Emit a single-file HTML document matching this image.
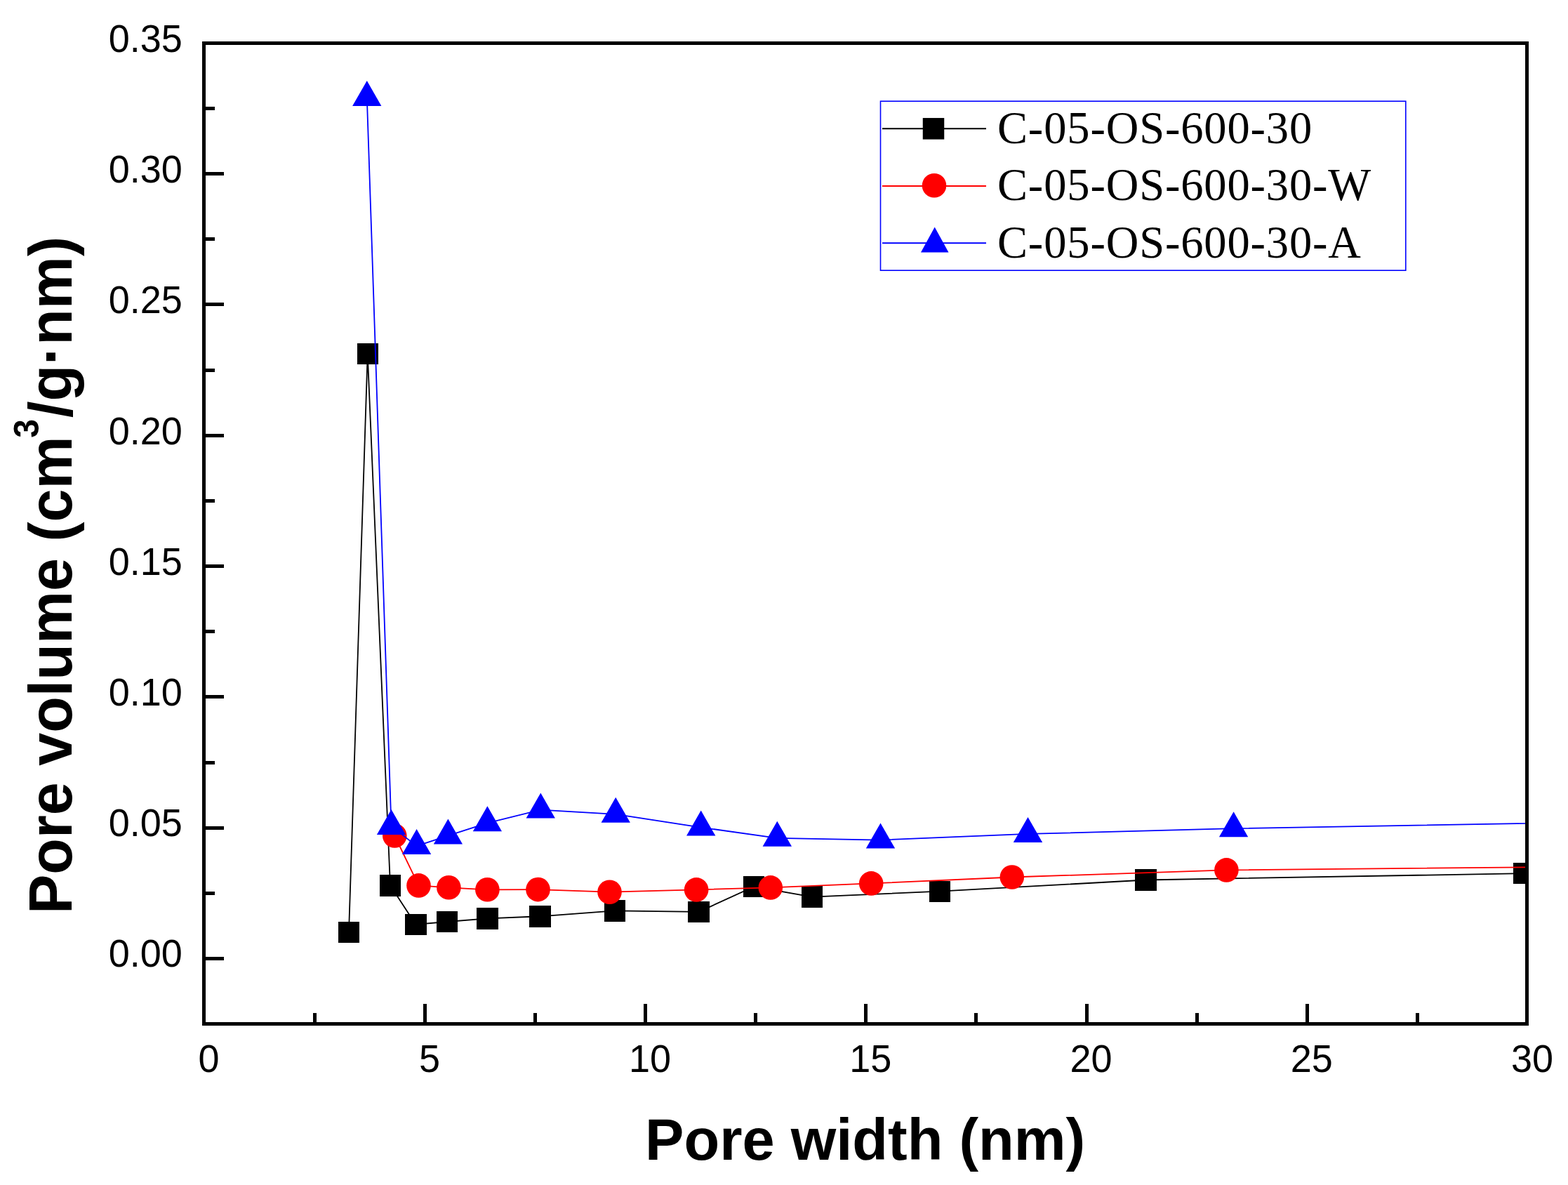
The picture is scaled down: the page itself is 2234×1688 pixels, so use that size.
<!DOCTYPE html>
<html><head><meta charset="utf-8"><title>Pore volume vs pore width</title>
<style>
html,body{margin:0;padding:0;background:#fff;}
body{width:2234px;height:1688px;overflow:hidden;}
svg{display:block;}
.tk{font-family:"Liberation Sans",Arial,sans-serif;font-size:54px;fill:#000;}
.ttl{font-family:"Liberation Sans",Arial,sans-serif;font-weight:bold;fill:#000;}
.lg{font-family:"Liberation Serif","Times New Roman",serif;font-size:64.5px;fill:#000;}
</style></head>
<body>
<svg width="2234" height="1688" viewBox="0 0 2234 1688">
<rect x="0" y="0" width="2234" height="1688" fill="#fff"/>
<defs><clipPath id="plot"><rect x="290.5" y="61.5" width="1885.0" height="1397.0"/></clipPath></defs>

<g clip-path="url(#plot)">
<polyline fill="none" stroke="#000" stroke-width="1.8" stroke-linejoin="round" points="497.0,1327.9 523.7,504.1 556.0,1261.2 592.2,1316.8 637.0,1313.0 694.4,1308.3 769.4,1305.3 875.8,1297.4 995.6,1298.9 1074.1,1263.0 1157.0,1277.6 1338.9,1269.7 1632.6,1253.5 2171.6,1244.1"/>
<g fill="#000" shape-rendering="crispEdges">
<rect x="481.8" y="1312.7" width="30.5" height="30.5"/>
<rect x="508.5" y="488.9" width="30.5" height="30.5"/>
<rect x="540.8" y="1246.0" width="30.5" height="30.5"/>
<rect x="577.0" y="1301.5" width="30.5" height="30.5"/>
<rect x="621.8" y="1297.8" width="30.5" height="30.5"/>
<rect x="679.1" y="1293.0" width="30.5" height="30.5"/>
<rect x="754.1" y="1290.0" width="30.5" height="30.5"/>
<rect x="860.5" y="1282.2" width="30.5" height="30.5"/>
<rect x="980.4" y="1283.7" width="30.5" height="30.5"/>
<rect x="1058.8" y="1247.8" width="30.5" height="30.5"/>
<rect x="1141.8" y="1262.3" width="30.5" height="30.5"/>
<rect x="1323.7" y="1254.5" width="30.5" height="30.5"/>
<rect x="1617.3" y="1238.2" width="30.5" height="30.5"/>
<rect x="2156.3" y="1228.8" width="30.5" height="30.5"/>
</g>
<polyline fill="none" stroke="#f00" stroke-width="1.8" stroke-linejoin="round" points="562.3,1190.5 596.5,1261.4 639.4,1264.3 694.4,1267.3 766.5,1267.1 868.5,1270.7 992.1,1267.4 1097.8,1264.4 1241.2,1258.4 1441.8,1249.5 1747.4,1239.4 2300.0,1234.1"/>
<g fill="#f00">
<circle cx="562.3" cy="1190.5" r="17.3"/>
<circle cx="596.5" cy="1261.4" r="17.3"/>
<circle cx="639.4" cy="1264.3" r="17.3"/>
<circle cx="694.4" cy="1267.3" r="17.3"/>
<circle cx="766.5" cy="1267.1" r="17.3"/>
<circle cx="868.5" cy="1270.7" r="17.3"/>
<circle cx="992.1" cy="1267.4" r="17.3"/>
<circle cx="1097.8" cy="1264.4" r="17.3"/>
<circle cx="1241.2" cy="1258.4" r="17.3"/>
<circle cx="1441.8" cy="1249.5" r="17.3"/>
<circle cx="1747.4" cy="1239.4" r="17.3"/>
<circle cx="2300.0" cy="1234.1" r="17.3"/>
</g>
<polyline fill="none" stroke="#00f" stroke-width="1.8" stroke-linejoin="round" points="522.8,138.9 557.5,1176.9 593.6,1205.1 638.4,1190.4 694.4,1172.3 770.3,1153.6 877.2,1159.8 998.7,1178.6 1107.3,1193.8 1254.5,1196.6 1464.5,1187.9 1757.6,1180.2 2300.0,1170.8"/>
<g fill="#00f">
<polygon points="522.8,114.9 543.4,150.9 502.1,150.9"/>
<polygon points="557.5,1152.9 578.1,1188.9 536.9,1188.9"/>
<polygon points="593.6,1181.1 614.2,1217.1 573.0,1217.1"/>
<polygon points="638.4,1166.4 659.0,1202.4 617.8,1202.4"/>
<polygon points="694.4,1148.3 715.0,1184.3 673.8,1184.3"/>
<polygon points="770.3,1129.6 790.9,1165.6 749.6,1165.6"/>
<polygon points="877.2,1135.8 897.9,1171.8 856.6,1171.8"/>
<polygon points="998.7,1154.6 1019.4,1190.6 978.1,1190.6"/>
<polygon points="1107.3,1169.8 1128.0,1205.8 1086.6,1205.8"/>
<polygon points="1254.5,1172.6 1275.2,1208.6 1233.8,1208.6"/>
<polygon points="1464.5,1163.9 1485.2,1199.9 1443.8,1199.9"/>
<polygon points="1757.6,1156.2 1778.2,1192.2 1736.9,1192.2"/>
<polygon points="2300.0,1146.8 2320.7,1182.8 2279.3,1182.8"/>
</g>
</g>
<g stroke="#000" stroke-width="5" fill="none" shape-rendering="crispEdges">
<rect x="290.5" y="61.5" width="1885.0" height="1397.0"/>
<line x1="290.5" y1="1365.6" x2="319.0" y2="1365.6"/>
<line x1="290.5" y1="1272.4" x2="306.0" y2="1272.4"/>
<line x1="290.5" y1="1179.2" x2="319.0" y2="1179.2"/>
<line x1="290.5" y1="1086.1" x2="306.0" y2="1086.1"/>
<line x1="290.5" y1="992.9" x2="319.0" y2="992.9"/>
<line x1="290.5" y1="899.7" x2="306.0" y2="899.7"/>
<line x1="290.5" y1="806.5" x2="319.0" y2="806.5"/>
<line x1="290.5" y1="713.4" x2="306.0" y2="713.4"/>
<line x1="290.5" y1="620.2" x2="319.0" y2="620.2"/>
<line x1="290.5" y1="527.0" x2="306.0" y2="527.0"/>
<line x1="290.5" y1="433.8" x2="319.0" y2="433.8"/>
<line x1="290.5" y1="340.7" x2="306.0" y2="340.7"/>
<line x1="290.5" y1="247.5" x2="319.0" y2="247.5"/>
<line x1="290.5" y1="154.3" x2="306.0" y2="154.3"/>
<line x1="448.1" y1="1458.5" x2="448.1" y2="1442.5"/>
<line x1="605.2" y1="1458.5" x2="605.2" y2="1429.5"/>
<line x1="762.4" y1="1458.5" x2="762.4" y2="1442.5"/>
<line x1="919.5" y1="1458.5" x2="919.5" y2="1429.5"/>
<line x1="1076.6" y1="1458.5" x2="1076.6" y2="1442.5"/>
<line x1="1233.8" y1="1458.5" x2="1233.8" y2="1429.5"/>
<line x1="1390.9" y1="1458.5" x2="1390.9" y2="1442.5"/>
<line x1="1548.0" y1="1458.5" x2="1548.0" y2="1429.5"/>
<line x1="1705.1" y1="1458.5" x2="1705.1" y2="1442.5"/>
<line x1="1862.2" y1="1458.5" x2="1862.2" y2="1429.5"/>
<line x1="2019.4" y1="1458.5" x2="2019.4" y2="1442.5"/>
</g>
<g class="tk">
<text transform="translate(259.8,1377.0) scale(1,1.04)" text-anchor="end">0.00</text>
<text transform="translate(259.8,1190.9) scale(1,1.04)" text-anchor="end">0.05</text>
<text transform="translate(259.8,1004.7) scale(1,1.04)" text-anchor="end">0.10</text>
<text transform="translate(259.8,818.6) scale(1,1.04)" text-anchor="end">0.15</text>
<text transform="translate(259.8,632.5) scale(1,1.04)" text-anchor="end">0.20</text>
<text transform="translate(259.8,446.4) scale(1,1.04)" text-anchor="end">0.25</text>
<text transform="translate(259.8,260.2) scale(1,1.04)" text-anchor="end">0.30</text>
<text transform="translate(259.8,74.1) scale(1,1.04)" text-anchor="end">0.35</text>
<text transform="translate(297.6,1527.3) scale(1,1.04)" text-anchor="middle">0</text>
<text transform="translate(611.9,1527.3) scale(1,1.04)" text-anchor="middle">5</text>
<text transform="translate(926.1,1527.3) scale(1,1.04)" text-anchor="middle">10</text>
<text transform="translate(1240.3,1527.3) scale(1,1.04)" text-anchor="middle">15</text>
<text transform="translate(1554.6,1527.3) scale(1,1.04)" text-anchor="middle">20</text>
<text transform="translate(1868.8,1527.3) scale(1,1.04)" text-anchor="middle">25</text>
<text transform="translate(2183.1,1527.3) scale(1,1.04)" text-anchor="middle">30</text>
</g>
<text class="ttl" x="919.1" y="1652" font-size="83">Pore width (nm)</text>
<g transform="translate(102.2,1297.2) rotate(-90)"><text class="ttl" x="-5" y="0" font-size="88" transform="scale(0.96,1)">Pore volume (cm<tspan font-size="50" dx="-2.6" dy="-47">3</tspan><tspan dx="2.2" dy="47">/g·nm)</tspan></text></g>
<rect x="1254.5" y="144.2" width="748.3" height="241" fill="none" stroke="#00f" stroke-width="1.6"/>
<line x1="1257" y1="183.3" x2="1405" y2="183.3" stroke="#000" stroke-width="2"/>
<rect x="1314.75" y="168.05" width="30.5" height="30.5" fill="#000"/>
<line x1="1257" y1="264.9" x2="1405" y2="264.9" stroke="#f00" stroke-width="2"/>
<circle cx="1331" cy="264.29999999999995" r="17.3" fill="#f00"/>
<line x1="1257" y1="346.3" x2="1405" y2="346.3" stroke="#00f" stroke-width="2"/>
<g fill="#00f"><polygon points="1331.7,323.6 1351.5,359.4 1312.0,359.4"/></g>
<text class="lg" x="1421" y="203.5" letter-spacing="0.85">C-05-OS-600-30</text>
<text class="lg" x="1421" y="284.6" letter-spacing="0.85">C-05-OS-600-30-W</text>
<text class="lg" x="1421" y="367.3" letter-spacing="0.85">C-05-OS-600-30-A</text>
</svg>
</body></html>
